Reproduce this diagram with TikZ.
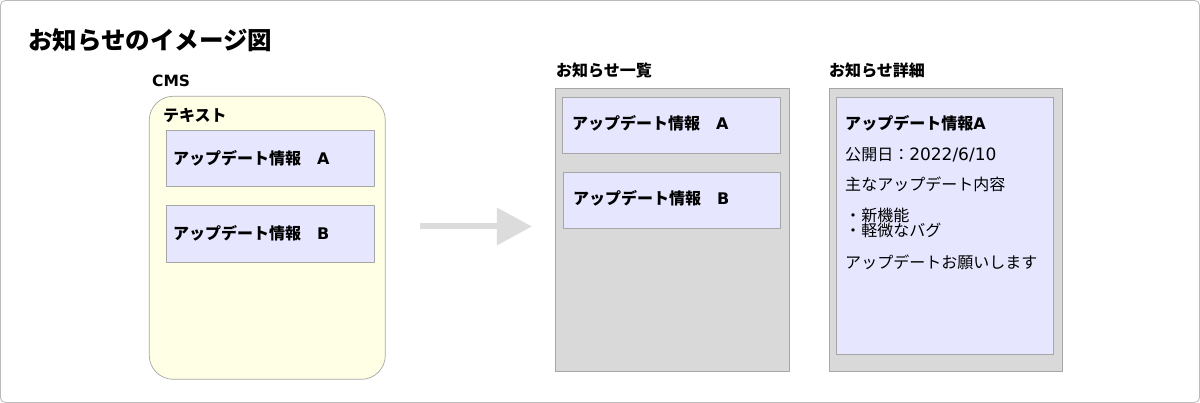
\documentclass[tikz,border=0pt]{standalone}
\usepackage{fontspec}
\setmainfont{Noto Sans CJK JP}
\newfontfamily\latinfont{DejaVu Sans}
\usetikzlibrary{arrows.meta}
\definecolor{cmsfill}{HTML}{FFFFE6}
\definecolor{itemfill}{HTML}{E6E6FF}
\definecolor{panelfill}{HTML}{D9D9D9}
\definecolor{frameline}{HTML}{BBBBBB}
\definecolor{boxline}{HTML}{A6A6A6}
\definecolor{arrowgray}{HTML}{DCDCDC}

\begin{document}
\begin{tikzpicture}[x=1pt,y=-1pt,line join=round,
  box/.style={anchor=north west,inner sep=0pt,line width=0.7pt,draw=boxline},
  lbl/.style={anchor=west,inner sep=0pt,font=\bfseries\fontsize{16}{18}\selectfont},
  txt/.style={anchor=west,inner sep=0pt,font=\fontsize{16}{18}\selectfont}]
  % outer frame
  \draw[frameline,line width=0.8pt,rounded corners=5pt,fill=white] (0.5,0.5) rectangle (1199.5,402.5);
  \node[lbl,font=\bfseries\fontsize{24.5}{28}\selectfont] (title) at (28,40) {お知らせのイメージ図};

  % CMS
  \node[lbl,font=\bfseries\fontsize{15.5}{18}\selectfont] (cmstitle) at (152,81) {\latinfont CMS};
  \node[box,fill=cmsfill,rounded corners=24pt,minimum width=236pt,minimum height=283pt] (cms) at (149,96) {};
  \node[lbl] (cmstext) at (163,116) {テキスト};
  \node[box,fill=itemfill,minimum width=208pt,minimum height=56pt] (cmsA) at (166,130) {};
  \node[box,fill=itemfill,minimum width=208pt,minimum height=57pt] (cmsB) at (166,205) {};
  \node[lbl] at ([xshift=7pt]cmsA.west) {アップデート情報　{\latinfont A}};
  \node[lbl] at ([xshift=7pt]cmsB.west) {アップデート情報　{\latinfont B}};

  % arrow
  \coordinate (arrs) at (420,226.5);
  \coordinate (arre) at (532,226.5);
  \draw[arrowgray,line width=6pt,-{Triangle[length=35pt,width=36pt]}] (arrs) -- (arre);

  % list
  \node[lbl] (listtitle) at (556,71) {お知らせ一覧};
  \node[box,fill=panelfill,minimum width=234pt,minimum height=283pt] (list) at (555,88) {};
  \node[box,fill=itemfill,minimum width=218pt,minimum height=56pt] (listA) at (562,97) {};
  \node[box,fill=itemfill,minimum width=217pt,minimum height=56pt] (listB) at (563,172) {};
  \node[lbl] at ([xshift=10pt,yshift=2pt]listA.west) {アップデート情報　{\latinfont A}};
  \node[lbl] at ([xshift=10pt,yshift=2pt]listB.west) {アップデート情報　{\latinfont B}};

  % detail
  \node[lbl] (detailtitle) at (829,71) {お知らせ詳細};
  \node[box,fill=panelfill,minimum width=233pt,minimum height=283pt] (detail) at (829,88) {};
  \node[box,fill=itemfill,minimum width=217pt,minimum height=257pt] (page) at (836,97) {};
  \node[lbl] (head) at (845,123.5) {アップデート情報{\latinfont A}};
  \node[txt] (date) at (845,155) {公開日：{\latinfont\fontsize{17}{18}\selectfont 2022/6/10}};
  \node[txt] (main) at (845,184) {主なアップデート内容};
  \node[txt] (news1) at (845,216) {・新機能};
  \node[txt] (news2) at (845,230) {・軽微なバグ};
  \node[txt] (ask) at (845,262) {アップデートお願いします};
\end{tikzpicture}
\end{document}
